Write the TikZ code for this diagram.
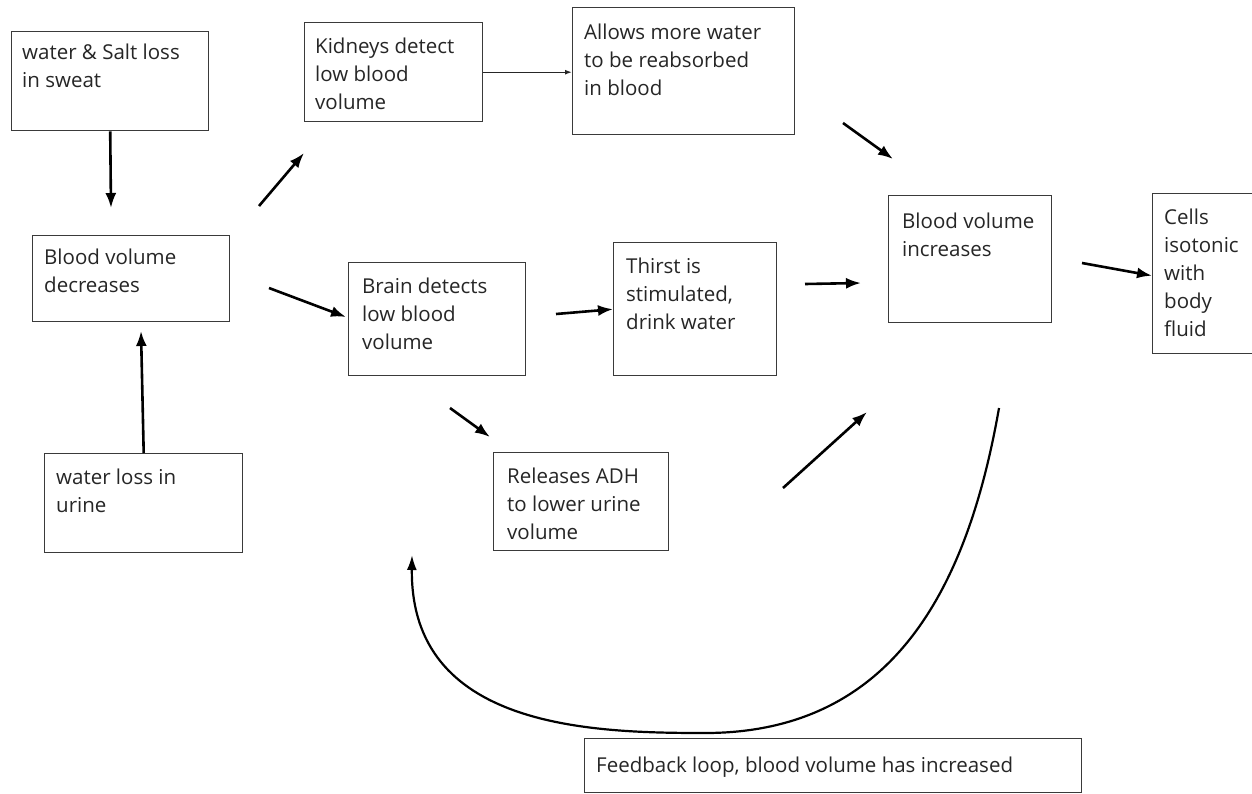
\documentclass[tikz,border=0pt]{standalone}
\usepackage{fontspec}
\setmainfont{Open Sans}
\usetikzlibrary{arrows.meta}
\definecolor{boxline}{HTML}{3A3A3A}
\tikzset{
  box/.style={draw=boxline, line width=1.4pt, anchor=north west, inner sep=0pt, fill=white},
  txt/.style={anchor=north west, inner sep=0pt, align=left, text=black!85,
    font=\fontsize{20.5}{28}\selectfont, execute at begin node={\strut}},
  arr/.style={line width=2.6pt, -{Latex[length=15pt,width=11pt]}, black},
  thinarr/.style={line width=1.4pt, -{Latex[length=7pt,width=5pt]}, black!85},
  loop/.style={line width=2.2pt, -{Latex[length=15pt,width=10pt]}, black}
}
\begin{document}
\begin{tikzpicture}[x=1pt,y=-1pt]
\useasboundingbox[fill=white] (0,0) rectangle (1252,793);

% boxes
\node[box, minimum width=197pt, minimum height=99pt] (sweat) at (11,31) {};
\node[txt] (sweatt) at ([xshift=11pt,yshift=-12.4pt]sweat.north west) {water \& Salt loss\\in sweat};

\node[box, minimum width=197pt, minimum height=86pt] (dec) at (32,235) {};
\node[txt] (dect) at ([xshift=12pt,yshift=-13.4pt]dec.north west) {Blood volume\\decreases};

\node[box, minimum width=198pt, minimum height=99pt] (urine) at (44,453) {};
\node[txt] (urinet) at ([xshift=12pt,yshift=-15.4pt]urine.north west) {water loss in\\urine};

\node[box, minimum width=178pt, minimum height=99pt] (kid) at (304,22) {};
\node[txt] (kidt) at ([xshift=11pt,yshift=-15.4pt]kid.north west) {Kidneys detect\\low blood\\volume};

\node[box, minimum width=222pt, minimum height=127pt] (allow) at (572,7) {};
\node[txt] (allowt) at ([xshift=12pt,yshift=-16.4pt]allow.north west) {Allows more water\\to be reabsorbed\\in blood};

\node[box, minimum width=177pt, minimum height=113pt] (brain) at (348,262) {};
\node[txt] (braint) at ([xshift=14pt,yshift=-15.4pt]brain.north west) {Brain detects\\low blood\\volume};

\node[box, minimum width=163pt, minimum height=133pt] (thirst) at (613,242) {};
\node[txt] (thirstt) at ([xshift=13pt,yshift=-15.4pt]thirst.north west) {Thirst is\\stimulated,\\drink water};

\node[box, minimum width=163pt, minimum height=127pt] (inc) at (888,195) {};
\node[txt] (inct) at ([xshift=14pt,yshift=-17.4pt]inc.north west) {Blood volume\\increases};

\node[box, minimum width=105pt, minimum height=160pt] (cells) at (1152,193) {};
\node[txt] (cellst) at ([xshift=12pt,yshift=-15.4pt]cells.north west) {Cells\\isotonic\\with\\body\\fluid};

\node[box, minimum width=175pt, minimum height=98pt] (adh) at (493,452) {};
\node[txt] (adht) at ([xshift=14pt,yshift=-15.4pt]adh.north west) {Releases ADH\\to lower urine\\volume};

\node[box, minimum width=497pt, minimum height=54pt] (fb) at (584,738) {};
\node[txt] (fbt) at ([xshift=12pt,yshift=-14.4pt]fb.north west) {Feedback loop, blood volume has increased};

% free arrow ends
\coordinate (a1e) at (111,208);
\coordinate (a2e) at (141,331);
\coordinate (a3s) at (259,206);
\coordinate (a3e) at (304,153);
\coordinate (a4s) at (269,288);
\coordinate (a4e) at (346,317);
\coordinate (a6s) at (556,314);
\coordinate (a7s) at (805,284);
\coordinate (a7e) at (861,283);
\coordinate (a8s) at (843,123);
\coordinate (a8e) at (893,159);
\coordinate (a9s) at (450,408);
\coordinate (a9e) at (490,437);
\coordinate (a10s) at (783,488);
\coordinate (a10e) at (867,412);
\coordinate (a11s) at (1082,263);
\coordinate (fbs) at (999,408);
\coordinate (fbm) at (705,733);
\coordinate (fbe) at (412,555);

% connectors
\draw[arr] (sweat.south) -- (a1e);
\draw[arr] (urine.north) -- (a2e);
\draw[arr] (a3s) -- (a3e);
\draw[arr] (a4s) -- (a4e);
\draw[thinarr] (kid.east) -- (allow.west |- kid.east);
\draw[arr] (a6s) -- (thirst.west);
\draw[arr] (a7s) -- (a7e);
\draw[arr] (a8s) -- (a8e);
\draw[arr] (a9s) -- (a9e);
\draw[arr] (a10s) -- (a10e);
\draw[arr] (a11s) -- ([yshift=-2pt]cells.west);
\draw[loop] (fbs) .. controls (968,585) and (895,733) .. (fbm)
                 .. controls (590,733) and (410,728) .. (fbe);
\end{tikzpicture}
\end{document}
